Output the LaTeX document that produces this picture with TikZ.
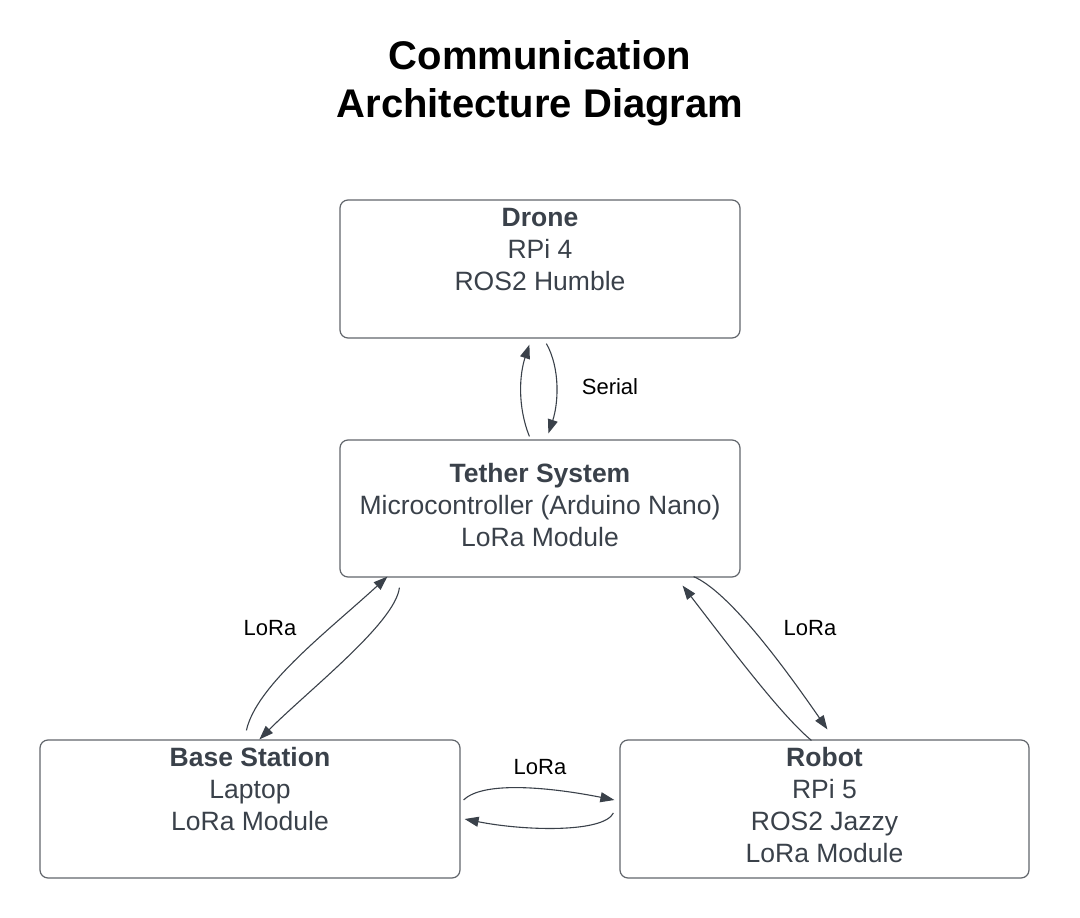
\documentclass[tikz,border=0pt]{standalone}
\usepackage{fontspec}
\setmainfont{Liberation Sans}
\usetikzlibrary{arrows.meta,calc}
\definecolor{txtc}{HTML}{3A414A}
\definecolor{boxc}{HTML}{62666C}
\begin{document}
\begin{tikzpicture}[x=1pt,y=-1pt,
  box/.style={draw=boxc,line width=1.2pt,rounded corners=8pt,fill=white,inner sep=0pt},
  txt/.style={align=center,text=txtc,font=\fontsize{26.5}{32}\selectfont},
  lbl/.style={text=black,font=\fontsize{22}{24}\selectfont},
  conn/.style={draw=txtc,line width=1.1pt,-{Triangle[length=14pt,width=10pt]}}]
\useasboundingbox (0,0) rectangle (1080,918);
\node[font=\bfseries\fontsize{40}{48}\selectfont,align=center] (title) at (540,83) {Communication\\Architecture Diagram};
% boxes
\node[box,minimum width=400pt,minimum height=138pt] (drone) at (540,269) {};
\node[box,minimum width=400pt,minimum height=137pt] (tether) at (540,508.5) {};
\node[box,minimum width=420pt,minimum height=138pt] (base) at (250,809) {};
\node[box,minimum width=409pt,minimum height=138pt] (robot) at (824.5,809) {};
% texts
\node[txt] (dronet) at (540,250) {\textbf{Drone}\\RPi 4\\ROS2 Humble};
\node[txt] (tethert) at (540,505.5) {\textbf{Tether System}\\Microcontroller (Arduino Nano)\\LoRa Module};
\node[txt] (baset) at (250,789.5) {\textbf{Base Station}\\Laptop\\LoRa Module};
\node[txt] (robott) at (824.5,805.5) {\textbf{Robot}\\RPi 5\\ROS2 Jazzy\\LoRa Module};
% labels
\node[lbl] (serial) at (610,387) {Serial};
\node[lbl] (lora1) at (270,628) {LoRa};
\node[lbl] (lora2) at (810,628) {LoRa};
\node[lbl] (lora3) at (540,767) {LoRa};
% serial
\draw[conn] ([shift={(190,-3)}]tether.north west) .. controls +(-12,-30) and +(-10,30) .. ([shift={(190,6)}]drone.south west);
\draw[conn] ([shift={(207,5)}]drone.south west) .. controls +(14,25) and +(10,-30) .. ([shift={(209,-6)}]tether.north west);
% left lora
\draw[conn] ([shift={(207,-9)}]base.north west) .. controls +(10,-45) and +(-60,55) .. ([shift={(48,-1)}]tether.south west);
\draw[conn] ([shift={(60,10)}]tether.south west) .. controls +(-4,35) and +(50,-50) .. ([shift={(220,0)}]base.north west);
% right lora
\draw[conn] ([shift={(-47,-1)}]tether.south east) .. controls +(35,15) and +(-45,-65) .. ([shift={(208,-10)}]robot.north west);
\draw[conn] ([shift={(192,1)}]robot.north west) .. controls +(-30,-25) and +(50,65) .. ([shift={(-58,8)}]tether.south east);
% bottom lora
\draw[conn] ([shift={(3,-9)}]base.east) .. controls +(20,-20) and +(-60,-12) .. ([shift={(-5,-9)}]robot.west);
\draw[conn] ([shift={(-6,4)}]robot.west) .. controls +(-10,20) and +(60,12) .. ([shift={(4,10)}]base.east);
\end{tikzpicture}
\end{document}
